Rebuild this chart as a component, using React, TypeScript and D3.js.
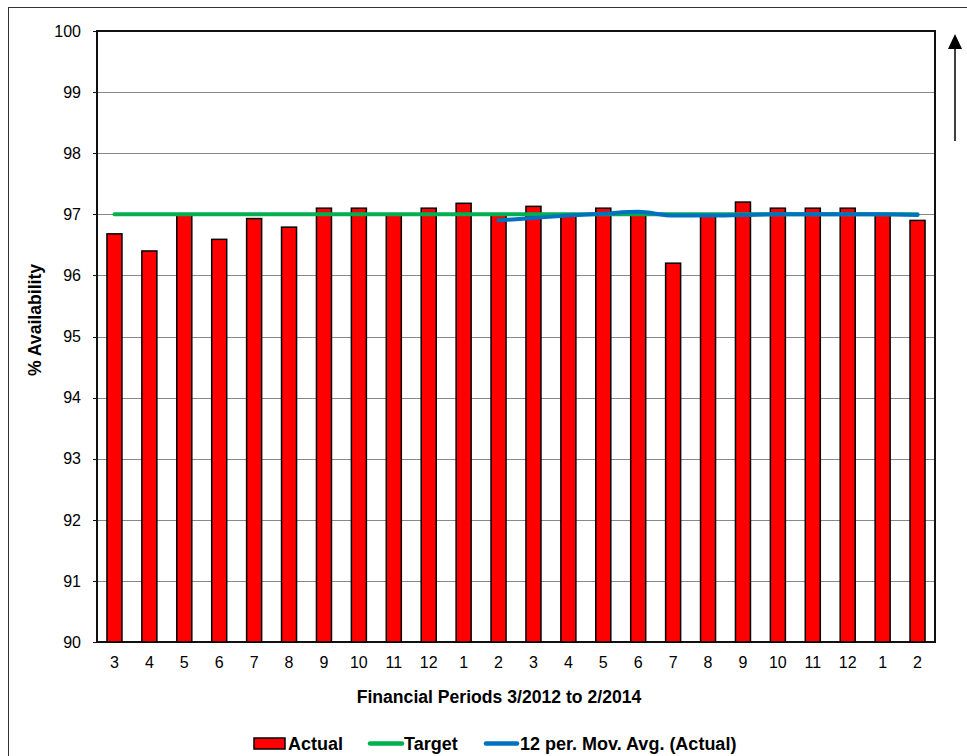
import React from "react";
import * as d3 from "d3";

const periods = ["3", "4", "5", "6", "7", "8", "9", "10", "11", "12", "1", "2", "3", "4", "5", "6", "7", "8", "9", "10", "11", "12", "1", "2"];
const actual = [96.68, 96.4, 97.0, 96.59, 96.93, 96.79, 97.1, 97.1, 97.0, 97.1, 97.18, 96.99, 97.13, 97.0, 97.1, 97.0, 96.2, 97.0, 97.2, 97.1, 97.1, 97.1, 97.0, 96.9];
const target = [97, 97, 97, 97, 97, 97, 97, 97, 97, 97, 97, 97, 97, 97, 97, 97, 97, 97, 97, 97, 97, 97, 97, 97];
const movAvg: (number | null)[] = [null, null, null, null, null, null, null, null, null, null, null, 96.9, 96.94, 96.98, 97.01, 97.04, 96.98, 96.98, 96.99, 97.0, 97.0, 97.0, 97.0, 96.99];
const yTicks = [90, 91, 92, 93, 94, 95, 96, 97, 98, 99, 100];

const W = 967;
const H = 756;
const plot = { left: 97, right: 935, top: 31, bottom: 642 };
const font = "Liberation Sans, Arial, sans-serif";

export default function App() {
  const idx = periods.map((_, i) => String(i));
  const x = d3.scaleBand<string>().domain(idx).range([plot.left, plot.right]).paddingInner(0.57).paddingOuter(0.285);
  const xc = (i: number) => (x(String(i)) as number) + x.bandwidth() / 2;
  const y = d3.scaleLinear().domain([90, 100]).range([plot.bottom, plot.top]);

  const targetLine = d3.line<number>().x((_, i) => xc(i)).y((d) => y(d))(target) as string;
  const maLine = d3
    .line<number | null>()
    .defined((d) => d !== null)
    .x((_, i) => xc(i))
    .y((d) => y(d as number))
    .curve(d3.curveMonotoneX)(movAvg) as string;

  return (
    <svg width={W} height={H} style={{ position: "absolute", left: 0, top: 0, display: "block" }} fontFamily={font}>
      <rect x={0} y={0} width={W} height={H} fill="#fff" />
      <rect x={8.5} y={7.5} width={W + 10} height={H + 10} fill="none" stroke="#333" strokeWidth={1} />

      {/* grid and axis ticks */}
      {yTicks.map((t) => (
        <g key={t}>
          <line x1={plot.left} x2={plot.right} y1={Math.round(y(t)) + 0.5} y2={Math.round(y(t)) + 0.5} stroke="#888" strokeWidth={1} />
          <line x1={plot.left - 4} x2={plot.left} y1={Math.round(y(t)) + 0.5} y2={Math.round(y(t)) + 0.5} stroke="#111" strokeWidth={1} />
        </g>
      ))}
      <rect x={plot.left} y={plot.top} width={plot.right - plot.left} height={plot.bottom - plot.top} fill="none" stroke="#111" strokeWidth={2} />

      {/* y tick labels */}
      {yTicks.map((t) => (
        <text key={t} x={81} y={y(t)} dy="0.36em" textAnchor="end" fontSize={16} fill="#000">
          {t}
        </text>
      ))}

      {/* bars */}
      {actual.map((v, i) => (
        <rect key={i} x={x(String(i))} y={y(v)} width={x.bandwidth()} height={y(90) - y(v)} fill="#ff0000" stroke="#000" strokeWidth={1.5} />
      ))}

      <path d={targetLine} fill="none" stroke="#00b050" strokeWidth={4} strokeLinecap="round" />
      <path d={maLine} fill="none" stroke="#0070c0" strokeWidth={4} strokeLinecap="round" />

      {/* x tick labels */}
      {periods.map((p, i) => (
        <text key={i} x={xc(i)} y={667.5} textAnchor="middle" fontSize={16} fill="#000">
          {p}
        </text>
      ))}

      <text x={499} y={703} textAnchor="middle" fontSize={17.6} fontWeight="bold" fill="#000">
        Financial Periods 3/2012 to 2/2014
      </text>
      <text transform={`translate(41,320) rotate(-90)`} textAnchor="middle" fontSize={17.6} fontWeight="bold" fill="#000">
        % Availability
      </text>

      {/* direction arrow */}
      <line x1={955} x2={955} y1={141} y2={48} stroke="#000" strokeWidth={1.5} />
      <path d="M955,34 L948,49 L962,49 Z" fill="#000" />

      {/* legend */}
      <g fontSize={18} fontWeight="bold" fill="#000">
        <rect x={254} y={738} width={31} height={11} fill="#ff0000" stroke="#000" strokeWidth={1.5} />
        <text x={288} y={750}>Actual</text>
        <line x1={370} x2={402} y1={743.5} y2={743.5} stroke="#00b050" strokeWidth={4.5} strokeLinecap="round" />
        <text x={404} y={750}>Target</text>
        <line x1={486} x2={517} y1={743.5} y2={743.5} stroke="#0070c0" strokeWidth={4.5} strokeLinecap="round" />
        <text x={520} y={750}>12 per. Mov. Avg. (Actual)</text>
      </g>
    </svg>
  );
}
